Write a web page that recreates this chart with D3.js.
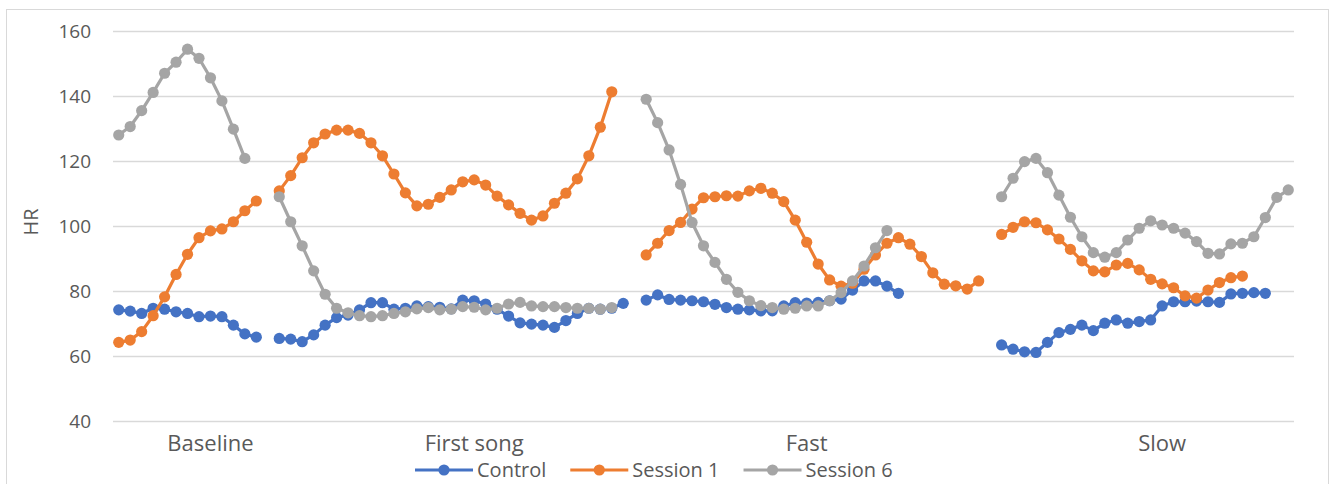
<!DOCTYPE html>
<html>
<head>
<meta charset="utf-8">
<script src="https://cdn.jsdelivr.net/npm/d3@7/dist/d3.min.js"></script>
<style>
  html, body { margin: 0; padding: 0; background: #fff; }
  svg { display: block; }
  text { font-family: "Open Sans", "Noto Sans", sans-serif; fill: #595959; }
</style>
</head>
<body>
<svg id="chart" width="1336" height="484"></svg>
<script>
// ---- data ----
const slotCount = 103;
const tickLabels = ["Baseline", "First song", "Fast", "Slow"];
const tickSlots = [8, 31, 60, 91];
const phaseStart = [0, 14, 46, 77];
const seriesNames = ["Control", "Session 1", "Session 6"];
const seriesColors = ["#4472C4", "#ED7D31", "#A5A5A5"];
const yTicks = [40, 60, 80, 100, 120, 140, 160];

const controlBaseline = [74.2, 73.8, 73.1, 74.7, 74.4, 73.6, 73.1, 72.1, 72.3, 72.1, 69.5, 66.8, 65.8];
const controlFirstSong = [65.4, 65.2, 64.4, 66.5, 69.5, 71.8, 72.6, 74.2, 76.4, 76.4, 74.4, 74.7, 75.4, 75.2, 75.0, 74.5, 77.2, 77.0, 76.0, 74.4, 72.3, 70.2, 69.8, 69.5, 68.8, 70.9, 73.1, 74.7, 74.4, 74.7, 76.2];
const controlFast = [77.2, 78.8, 77.4, 77.2, 77.0, 76.7, 75.9, 74.9, 74.4, 74.2, 73.9, 73.9, 75.4, 76.4, 76.3, 76.5, 77.0, 77.5, 80.3, 83.1, 83.1, 81.5, 79.3];
const controlSlow = [63.4, 62.1, 61.3, 61.1, 64.2, 67.2, 68.2, 69.5, 67.8, 70.1, 71.1, 70.1, 70.6, 71.1, 75.4, 76.7, 76.7, 76.9, 76.7, 76.5, 79.1, 79.3, 79.5, 79.3];

const session1Baseline = [64.2, 64.9, 67.5, 72.4, 78.2, 85.1, 91.3, 96.4, 98.5, 99.1, 101.3, 104.7, 107.7];
const session1FirstSong = [110.8, 115.5, 121.0, 125.6, 128.3, 129.5, 129.5, 128.5, 125.6, 121.6, 116.0, 110.2, 106.2, 106.7, 108.8, 111.1, 113.6, 114.2, 112.6, 109.2, 106.5, 103.9, 101.8, 103.1, 107.0, 110.1, 114.5, 121.6, 130.4, 141.3];
const session1Fast = [91.1, 94.7, 98.6, 101.1, 105.2, 108.7, 109.0, 109.3, 109.2, 110.8, 111.6, 110.1, 107.5, 101.8, 95.0, 88.3, 83.4, 81.5, 82.4, 86.7, 91.1, 94.7, 96.4, 94.4, 90.6, 85.6, 82.1, 81.6, 80.6, 83.1];
const session1Slow = [97.4, 99.6, 101.3, 101.0, 98.8, 96.0, 92.8, 89.3, 86.2, 85.9, 88.0, 88.5, 86.5, 83.6, 82.2, 81.0, 78.5, 77.8, 80.3, 82.6, 84.1, 84.6];

const session6Baseline = [128.0, 130.6, 135.5, 141.1, 147.0, 150.4, 154.4, 151.6, 145.6, 138.5, 129.8, 120.8];
const session6FirstSong = [109.0, 101.3, 93.9, 86.2, 79.0, 74.7, 73.3, 72.4, 72.1, 72.4, 73.1, 73.6, 74.5, 74.9, 74.2, 74.4, 75.2, 75.0, 74.2, 74.7, 76.0, 76.5, 75.4, 75.2, 75.2, 74.9, 74.7, 74.7, 74.4, 74.9];
const session6Fast = [139.0, 131.8, 123.4, 112.8, 101.1, 93.9, 88.8, 83.6, 79.6, 77.0, 75.5, 74.9, 74.4, 74.7, 75.4, 75.4, 77.0, 79.5, 83.1, 87.7, 93.3, 98.6];
const session6Slow = [109.0, 114.7, 119.8, 120.8, 116.4, 109.5, 102.7, 96.7, 91.8, 90.4, 91.8, 95.7, 99.3, 101.6, 100.3, 99.3, 97.8, 95.2, 91.6, 91.4, 94.5, 94.7, 96.7, 102.6, 108.8, 111.1];

const seriesPhases = [
  [controlBaseline, controlFirstSong, controlFast, controlSlow],
  [session1Baseline, session1FirstSong, session1Fast, session1Slow],
  [session6Baseline, session6FirstSong, session6Fast, session6Slow]
];

// ---- layout ----
const svg = d3.select("#chart");
const plot = { left: 113, right: 1294, top: 31, bottom: 421 };

svg.append("rect")
  .attr("x", 6.5).attr("y", 9.5)
  .attr("width", 1322).attr("height", 490)
  .attr("fill", "none").attr("stroke", "#D9D9D9").attr("stroke-width", 1);

const x = d3.scaleBand().domain(d3.range(slotCount)).range([plot.left, plot.right]).padding(0);
const cx = i => x(i) + x.bandwidth() / 2;
const y = d3.scaleLinear().domain([40, 160]).range([plot.bottom, plot.top]);

// gridlines
svg.append("g").selectAll("line").data(yTicks).join("line")
  .attr("x1", plot.left).attr("x2", plot.right)
  .attr("y1", d => Math.round(y(d)) + 0.5).attr("y2", d => Math.round(y(d)) + 0.5)
  .attr("stroke", "#D9D9D9").attr("stroke-width", 1.3);

// y axis labels
const yAxis = d3.axisLeft(y).tickValues(yTicks).tickSize(0).tickPadding(0);
const gy = svg.append("g").attr("transform", `translate(${91},0)`).call(yAxis);
gy.select(".domain").remove();
gy.selectAll("text").attr("font-size", 19).attr("fill", "#595959")
  .style("font-family", '"Open Sans", sans-serif').attr("dy", "0.35em");

// y title
svg.append("text")
  .attr("transform", `translate(38,${(plot.top + plot.bottom) / 2 - 4}) rotate(-90)`)
  .attr("text-anchor", "middle")
  .attr("font-size", 20)
  .text("HR");

// category labels
const xAxis = d3.axisBottom(x).tickValues(tickSlots).tickFormat((d, i) => tickLabels[i]).tickSize(0).tickPadding(0);
const gx = svg.append("g").attr("transform", `translate(0,${plot.bottom})`).call(xAxis);
gx.select(".domain").remove();
gx.selectAll("text").attr("font-size", 22).attr("fill", "#595959")
  .style("font-family", '"Open Sans", sans-serif').attr("y", 14).attr("dy", "0.71em");

// series
const line = d3.line().defined(d => d.v != null).x(d => cx(d.i)).y(d => y(d.v));
seriesPhases.forEach((phases, s) => {
  const g = svg.append("g");
  phases.forEach((vals, p) => {
    const pts = vals.map((v, k) => ({ i: phaseStart[p] + k, v }));
    g.append("path").datum(pts).attr("d", line)
      .attr("fill", "none").attr("stroke", seriesColors[s])
      .attr("stroke-width", 3.2).attr("stroke-linejoin", "round");
    g.selectAll(null).data(pts).join("circle")
      .attr("cx", d => cx(d.i)).attr("cy", d => y(d.v)).attr("r", 5.6)
      .attr("fill", seriesColors[s]);
  });
});

// legend
const legend = svg.append("g").attr("transform", "translate(0,470)");
let lx = 415;
seriesNames.forEach((name, s) => {
  const item = legend.append("g").attr("transform", `translate(${lx},0)`);
  item.append("line").attr("x1", 0).attr("x2", 58).attr("y1", 0).attr("y2", 0)
    .attr("stroke", seriesColors[s]).attr("stroke-width", 3.2);
  item.append("circle").attr("cx", 29).attr("cy", 0).attr("r", 5.6).attr("fill", seriesColors[s]);
  const t = item.append("text").attr("x", 62).attr("y", 0).attr("dy", "0.35em")
    .attr("font-size", 20).text(name);
  lx += 62 + t.node().getComputedTextLength() + 24;
});
</script>
</body>
</html>
